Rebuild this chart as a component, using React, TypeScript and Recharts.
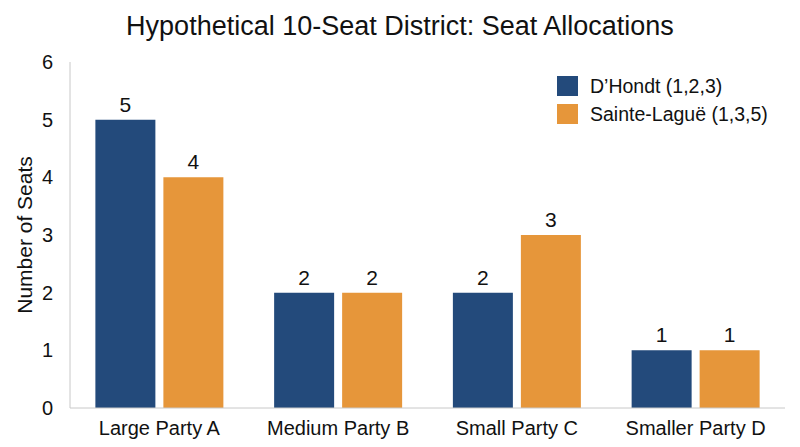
import { BarChart, Bar, XAxis, YAxis, LabelList } from 'recharts';

const parties = ['Large Party A', 'Medium Party B', 'Small Party C', 'Smaller Party D'];
const dhondt = [5, 2, 2, 1];
const sainteLague = [4, 2, 3, 1];
const yTicks = [0, 1, 2, 3, 4, 5, 6];

const BLUE = '#234a7b';
const ORANGE = '#e6963a';
const FONT = '"Liberation Sans", Arial, sans-serif';

const data = parties.map((p, i) => ({ party: p, dhondt: dhondt[i], sainte: sainteLague[i] }));

const legendItems = [
  { name: 'D\u2019Hondt (1,2,3)', color: BLUE },
  { name: 'Sainte-Lagu\u00eb (1,3,5)', color: ORANGE },
];

export default function App() {
  return (
    <div style={{ position: 'absolute', left: 0, top: 0, width: 800, height: 447, background: '#fff', fontFamily: FONT }}>
      <div style={{ position: 'absolute', top: 11, left: 0, width: 800, textAlign: 'center', fontSize: 27, color: '#111' }}>
        Hypothetical 10-Seat District: Seat Allocations
      </div>
      <BarChart
        width={800}
        height={447}
        data={data}
        margin={{ top: 62, right: 15, left: 0, bottom: 0 }}
        barCategoryGap="14.2%"
        barGap={8}
      >
        <XAxis
          dataKey="party"
          axisLine={{ stroke: '#c8c8c8' }}
          tickLine={false}
          tickMargin={7}
          height={39}
          tick={{ fill: '#111', fontSize: 20, fontFamily: FONT }}
        />
        <YAxis
          width={70}
          domain={[0, 6]}
          ticks={yTicks}
          axisLine={{ stroke: '#c8c8c8' }}
          tickLine={false}
          tickMargin={11}
          tick={{ fill: '#111', fontSize: 20, fontFamily: FONT }}
          label={{
            value: 'Number of Seats',
            angle: -90,
            position: 'insideLeft',
            offset: 25,
            style: { textAnchor: 'middle', fill: '#111', fontSize: 21, fontFamily: FONT },
          }}
        />
        <Bar dataKey="dhondt" fill={BLUE} isAnimationActive={false}>
          <LabelList dataKey="dhondt" position="top" offset={8} style={{ fill: '#111', fontSize: 21, fontFamily: FONT }} />
        </Bar>
        <Bar dataKey="sainte" fill={ORANGE} isAnimationActive={false}>
          <LabelList dataKey="sainte" position="top" offset={8} style={{ fill: '#111', fontSize: 21, fontFamily: FONT }} />
        </Bar>
      </BarChart>
      <div style={{ position: 'absolute', top: 76, left: 557, fontSize: 19.5, color: '#111' }}>
        {legendItems.map((it) => (
          <div key={it.name} style={{ display: 'flex', alignItems: 'center', height: 20, marginBottom: 8 }}>
            <span style={{ width: 21, height: 20, background: it.color, display: 'inline-block', marginRight: 12 }} />
            <span>{it.name}</span>
          </div>
        ))}
      </div>
    </div>
  );
}
